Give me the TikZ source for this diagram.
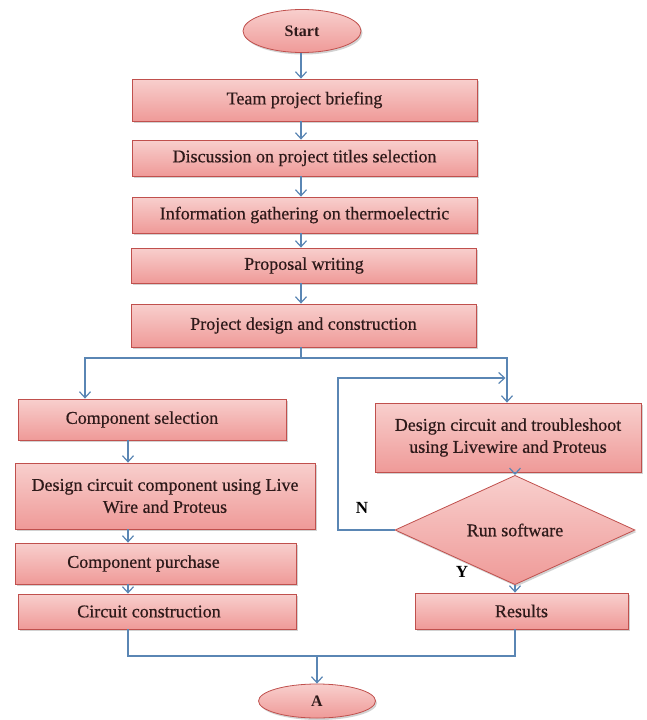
\documentclass[tikz,border=0pt]{standalone}
\usepackage{fontspec}
\setmainfont{Liberation Serif}
\newfontfamily\medserif{Liberation Serif}[FakeBold=0.5]
\usetikzlibrary{arrows.meta,shapes.geometric,shadows}
\definecolor{boxline}{HTML}{C0504D}
\definecolor{boxtop}{HTML}{F8CFCD}
\definecolor{boxmid}{HTML}{FDEAE9}
\definecolor{boxbot}{HTML}{EF9A98}
\definecolor{arrowblue}{HTML}{5A86B4}
\definecolor{txt}{HTML}{2E1A1A}
\tikzset{
  pinkfill/.style={draw=boxline, line width=0.8pt, top color=boxtop, middle color=boxmid, bottom color=boxbot,
    drop shadow={shadow xshift=1.5pt, shadow yshift=-2pt, opacity=0.35}},
  stepbox/.style={pinkfill, rectangle, inner sep=0pt, align=center, text=txt,
    font=\fontsize{18}{22}\selectfont\medserif},
  termbox/.style={pinkfill, ellipse, inner sep=0pt, text=txt,
    font=\fontsize{16}{18}\selectfont\bfseries},
  decbox/.style={pinkfill, diamond, inner sep=0pt, text=txt,
    font=\fontsize{18}{22}\selectfont\medserif},
  lbl/.style={inner sep=0pt, text=black, font=\fontsize{17}{20}\selectfont\bfseries},
  wire/.style={draw=arrowblue, line width=1.2pt},
  conn/.style={wire, -{Straight Barb[length=6pt,width=11pt]}},
}
\begin{document}
\begin{tikzpicture}[x=1pt,y=-1pt]
\fill[white] (0,0) rectangle (647,720);
\useasboundingbox (0,0) rectangle (647,720);

% main column
\node[termbox, minimum width=118pt, minimum height=43pt] (start) at (302,31) {Start};
\node[stepbox, minimum width=345pt, minimum height=42pt] (team) at (304.5,100) {Team project briefing};
\node[stepbox, minimum width=345pt, minimum height=36pt] (disc) at (304.5,158) {Discussion on project titles selection};
\node[stepbox, minimum width=345pt, minimum height=36pt] (info) at (304.5,215) {Information gathering on thermoelectric};
\node[stepbox, minimum width=345pt, minimum height=35pt] (prop) at (304,265.5) {Proposal writing};
\node[stepbox, minimum width=345pt, minimum height=43pt] (pdc) at (303.5,325.5) {Project design and construction};

% left column
\node[stepbox, minimum width=268pt, minimum height=41pt] (cs) at (152,419.5) {\hspace*{-20pt}Component selection};
\node[stepbox, minimum width=300pt, minimum height=66pt] (dc) at (165,496) {Design circuit component using Live\\Wire and Proteus};
\node[stepbox, minimum width=281pt, minimum height=41pt] (cp) at (155.5,563.5) {\hspace*{-24pt}Component purchase};
\node[stepbox, minimum width=278pt, minimum height=35pt] (cc) at (157,611.5) {\hspace*{-16pt}Circuit construction};

% right column
\node[stepbox, minimum width=266pt, minimum height=69pt] (dt) at (508,437.5) {Design circuit and troubleshoot\\using Livewire and Proteus};
\node[decbox, minimum width=240pt, minimum height=66pt] (rs) at (515,530) {Run software};
\node[stepbox, minimum width=213pt, minimum height=36pt] (res) at (521.5,611) {Results};

% end
\node[termbox, minimum width=117pt, minimum height=34pt] (aend) at (317,701) {A};

% labels
\node[lbl] (nlab) at (362,508) {N};
\node[lbl] (ylab) at (462,572) {Y};

% coordinates
\coordinate (mx) at (301,0);
\coordinate (brC) at (301,358);
\coordinate (brL) at (85,358);
\coordinate (brR) at (507,358);
\coordinate (lx) at (128,656);
\coordinate (rx) at (515,656);
\coordinate (bj) at (317,656);
\coordinate (lp) at (338,378);

% main arrows
\draw[conn] (start.south -| mx) -- (team.north -| mx);
\draw[conn] (team.south -| mx) -- (disc.north -| mx);
\draw[conn] (disc.south -| mx) -- (info.north -| mx);
\draw[conn] (info.south -| mx) -- (prop.north -| mx);
\draw[conn] (prop.south -| mx) -- (pdc.north -| mx);

% branch
\draw[wire] (pdc.south -| brC) -- (brC);
\draw[conn] (brC) -| (cs.north -| brL);
\draw[conn] (brC) -| (dt.north -| brR);

% left column arrows
\draw[conn] (cs.south -| lx) -- (dc.north -| lx);
\draw[conn] (dc.south -| lx) -- (cp.north -| lx);
\draw[conn] (cp.south -| lx) -- (cc.north -| lx);

% right column arrows
\draw[conn] (dt.south -| rs.north) -- (rs.north);
\draw[conn] (rs.south) -- (rs.south |- res.north);

% loop back (N)
\draw[conn, shorten >=1.5pt] (rs.west) -| (lp) -- (lp -| brR);

% join to A
\draw[wire] (cc.south -| lx) -- (lx) -- (rx) -- (res.south -| rx);
\draw[conn] (bj) -- (aend.north);
\end{tikzpicture}
\end{document}
